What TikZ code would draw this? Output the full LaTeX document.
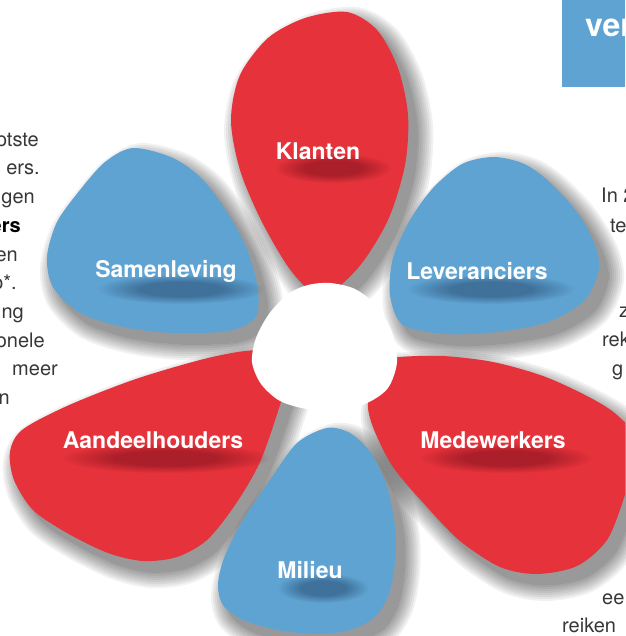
\documentclass[tikz,border=0pt]{standalone}
\usepackage{fontspec}
\setmainfont{TeX Gyre Heros}
\usetikzlibrary{fadings}

\definecolor{petalred}{RGB}{229,50,59}
\definecolor{petalblue}{RGB}{95,163,210}
\definecolor{shadered}{RGB}{160,28,38}
\definecolor{shadeblue}{RGB}{58,105,145}
\definecolor{bodygray}{RGB}{55,55,55}

\pgfdeclareradialshading{glowshade}{\pgfpointorigin}{color(0bp)=(white); color(12bp)=(white); color(25bp)=(black); color(50bp)=(black)}
\pgfdeclarefading{softglow}{\pgfuseshading{glowshade}}

\begin{document}
\begin{tikzpicture}[x=1pt,y=-1pt,
    redpetal/.style={fill=petalred},
    bluepetal/.style={fill=petalblue},
    petallabel/.style={text=white,inner sep=0pt,font=\fontsize{23}{26}\selectfont\bfseries},
    bodytext/.style={text=bodygray,inner sep=0pt,font=\fontsize{20}{24}\selectfont},
    textshadow/.style={path fading=softglow,fill opacity=0.85}]
  \useasboundingbox (0,0) rectangle (625,636);
  \clip (0,0) rectangle (625,636);

  \def\klanten{plot[smooth cycle] coordinates {(347,12) (377,30) (398,68) (408,115) (405,165) (388,220) (358,268) (322,296) (292,272) (262,222) (240,170) (231,120) (240,75) (268,38) (305,18)}}
  \def\samenleving{plot[smooth cycle] coordinates {(133,148) (173,158) (203,180) (230,217) (248,252) (258,290) (255,318) (228,331) (173,333) (123,327) (80,313) (53,287) (47,257) (57,222) (80,190) (105,162)}}
  \def\leveranciers{plot[smooth cycle] coordinates {(493,157) (522,163) (545,178) (573,207) (593,240) (599,268) (585,300) (548,322) (497,332) (447,334) (403,325) (390,295) (393,258) (410,220) (433,188) (462,164)}}
  \def\aandeelhouders{plot[smooth cycle] coordinates {(200,360) (245,351) (275,352) (288,375) (280,405) (260,462) (235,505) (207,540) (177,557) (143,561) (108,553) (67,533) (33,510) (14,480) (10,452) (22,430) (67,406) (133,380)}}
  \def\medewerkers{plot[smooth cycle] coordinates {(380,362) (400,357) (443,356) (493,362) (543,376) (587,396) (617,415) (640,445) (625,495) (607,540) (577,566) (537,574) (500,567) (460,541) (427,507) (393,467) (373,427) (368,400)}}
  \def\milieu{plot[smooth cycle] coordinates {(327,428) (350,433) (371,453) (387,487) (395,527) (395,562) (389,594) (375,617) (350,630) (317,634) (277,630) (243,620) (223,605) (218,585) (224,558) (243,520) (270,480) (297,443)}}

  % soft shadows under the petals
  \foreach \p in {\klanten,\samenleving,\leveranciers,\aandeelhouders,\medewerkers,\milieu}{
    \foreach \w in {0,4,...,32}{
      \begin{scope}[transparency group,opacity=0.055]
        \filldraw[black,line width=\w pt,shift={(9,11)}] \p;
      \end{scope}
    }
  }

  % petals
  \fill[redpetal] \klanten;
  \fill[bluepetal] \samenleving;
  \fill[bluepetal] \leveranciers;
  \fill[redpetal] \aandeelhouders;
  \fill[redpetal] \medewerkers;
  \fill[bluepetal] \milieu;

  % heart
  \fill[white] plot[smooth cycle] coordinates {(330,283) (355,289) (377,306) (392,332) (397,362) (388,388) (367,403) (338,410) (307,409) (280,401) (261,384) (252,362) (256,338) (269,314) (288,294) (308,285)};

  % labels
  \fill[shadered,textshadow] (333,168) ellipse (58 and 15);
  \fill[shadeblue,textshadow] (181,289) ellipse (84 and 15);
  \fill[shadeblue,textshadow] (491,289) ellipse (84 and 15);
  \fill[shadered,textshadow] (166,458) ellipse (104 and 15);
  \fill[shadered,textshadow] (506,458) ellipse (86 and 15);
  \fill[shadeblue,textshadow] (323,588) ellipse (46 and 15);

  \node[petallabel] (klanten) at (318,151) {Klanten};
  \node[petallabel] (samenleving) at (166,271) {Samenleving};
  \node[petallabel] (leveranciers) at (477,271) {Leveranciers};
  \node[petallabel] (aandeelhouders) at (153,440) {Aandeelhouders};
  \node[petallabel] (medewerkers) at (493,440) {Medewerkers};
  \node[petallabel] (milieu) at (310,570) {Milieu};

  % title box, top right
  \fill[petalblue] (562,0) rectangle (625,87);
  \node[petallabel,anchor=base west,font=\fontsize{32}{36}\selectfont\bfseries] (vertitle) at (585,37) {ver};

  % running text, left column
  \node[bodytext,anchor=base east] (left1) at (39,147) {otste};
  \node[bodytext,anchor=base east] (left2) at (40,175) {ers.};
  \node[bodytext,anchor=base east] (left3) at (35,204) {gen};
  \node[bodytext,anchor=base east,text=black,font=\fontsize{20}{24}\selectfont\bfseries] (left4) at (21,232) {ers};
  \node[bodytext,anchor=base east] (left5) at (18,261) {en};
  \node[bodytext,anchor=base east] (left6) at (17,289) {o*.};
  \node[bodytext,anchor=base east] (left7) at (24,318) {ng};
  \node[bodytext,anchor=base east] (left8) at (45,347) {onele};
  \node[bodytext,anchor=base east] (left9) at (58,375) {meer};
  \node[bodytext,anchor=base east] (left10) at (10,404) {n};

  % running text, right column
  \node[bodytext,anchor=base west] (right1) at (601,203) {In 2};
  \node[bodytext,anchor=base west] (right2) at (610,232) {te};
  \node[bodytext,anchor=base west] (right3) at (619,317) {z};
  \node[bodytext,anchor=base west] (right4) at (602,346) {rek};
  \node[bodytext,anchor=base west] (right5) at (612,375) {g};
  \node[bodytext,anchor=base west] (right6) at (602,604) {ee};
  \node[bodytext,anchor=base west] (right7) at (562,632) {reiken};
\end{tikzpicture}
\end{document}
